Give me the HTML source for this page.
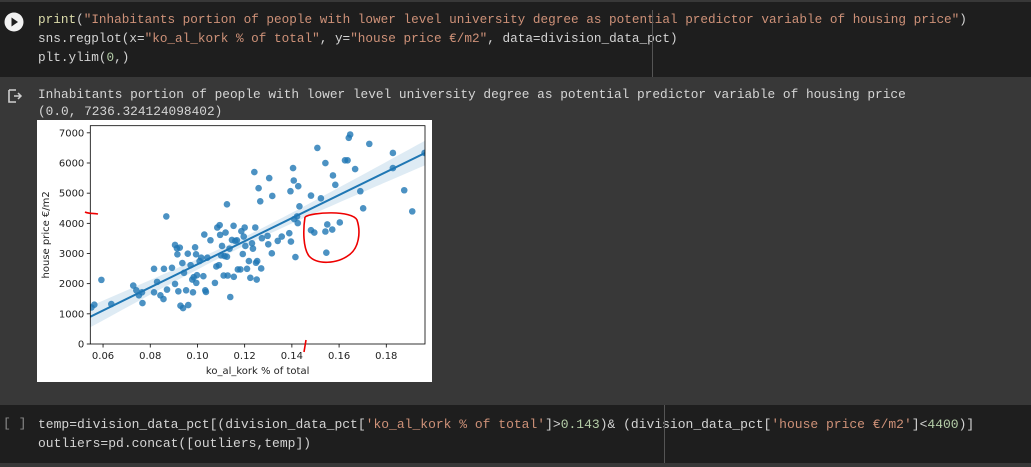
<!DOCTYPE html>
<html><head><meta charset="utf-8">
<style>
html,body{margin:0;padding:0;}
body{width:1031px;height:467px;background:#383838;position:relative;overflow:hidden;font-family:"Liberation Mono",monospace;}
.cell{position:absolute;left:0;width:1031px;background:#1e1e1e;}
.code{position:absolute;left:38px;font-size:12.7px;color:#d4d4d4;white-space:pre;line-height:19px;}
.s{color:#ce9178}.f{color:#dcdcaa}.n{color:#b5cea8}
.out{position:absolute;left:38px;top:86px;font-size:12.8px;color:#d5d5d5;white-space:pre;line-height:17px;}
</style></head><body>
<div class="cell" style="top:2px;height:75px;">
  <svg style="position:absolute;left:4px;top:10px" width="20" height="20"><circle cx="10" cy="10" r="9.5" fill="#f2f2f2"/><path d="M7.5 5.5 L14 10 L7.5 14.5Z" fill="#1e1e1e"/></svg>
  <div class="code" style="top:8px;"><span class="f">print</span>(<span class="s">"Inhabitants portion of people with lower level university degree as potential predictor variable of housing price"</span>)
sns.regplot(x=<span class="s">"ko_al_kork % of total"</span>, y=<span class="s">"house price €/m2"</span>, data=division_data_pct)
plt.ylim(<span class="n">0</span>,)</div>
  <div style="position:absolute;left:652px;top:8px;width:1px;height:67px;background:#555"></div>
</div>
<svg style="position:absolute;left:6px;top:88px" width="18" height="16"><path d="M3 2 H10 M3 2 V14 H10" stroke="#cfcfcf" stroke-width="1.6" fill="none"/><path d="M8 8 H15 M12 5 L15 8 L12 11" stroke="#cfcfcf" stroke-width="1.5" fill="none"/></svg>
<div class="out">Inhabitants portion of people with lower level university degree as potential predictor variable of housing price
(0.0, 7236.324124098402)</div>

<svg id="chart" style="position:absolute;left:37px;top:120px;background:#fff" width="395" height="262"></svg>

<div class="cell" style="top:405px;height:58px;">
  <div style="position:absolute;left:3px;top:11px;font-size:13px;color:#8a8a8a;font-family:'Liberation Mono',monospace">[ ]</div>
  <div class="code" style="top:10px;font-size:13px;">temp=division_data_pct[(division_data_pct[<span class="s">'ko_al_kork % of total'</span>]&gt;<span class="n">0.143</span>)&amp; (division_data_pct[<span class="s">'house price €/m2'</span>]&lt;<span class="n">4400</span>)]
outliers=pd.concat([outliers,temp])</div>
  <div style="position:absolute;left:664px;top:0;width:1px;height:58px;background:#555"></div>
</div>

<script>
const xs=[.0551,.0563,.0593,.0635,.0728,.0741,.0752,.0765,.0767,.0816,.0816,.0829,.0843,.0856,.0858,.0868,.0871,.0892,.0905,.0905,.0913,.0915,.0919,.0925,.0928,.0936,.0939,.0943,.0952,.0959,.0961,.0971,.0978,.0981,.0984,.0990,.0994,.0995,.0998,.1009,.1016,.1025,.1029,.1033,.1036,.1042,.1055,.1074,.1080,.1084,.1091,.1094,.1096,.1100,.1104,.1111,.1115,.1119,.1125,.1125,.1128,.1136,.1139,.1146,.1153,.1154,.1160,.1167,.1171,.1182,.1186,.1192,.1196,.1200,.1203,.1210,.1218,.1224,.1231,.1235,.1241,.1245,.1248,.1251,.1253,.1259,.1266,.1270,.1273,.1297,.1300,.1304,.1315,.1317,.1340,.1357,.1389,.1394,.1396,.1405,.1408,.1410,.1415,.1422,.1425,.1427,.1432,.1481,.1481,.1495,.1508,.1523,.1542,.1542,.1546,.1550,.1571,.1574,.1584,.1603,.1625,.1636,.1641,.1647,.1668,.1690,.1702,.1728,.1828,.1828,.1876,.1910,.1962];
const ys=[1213,1302,2126,1324,1937,1781,1614,1714,1358,2493,1714,2059,1614,1491,2493,4229,1803,2526,3283,1992,3172,2972,1748,3194,1269,2682,1191,2360,1781,2994,1291,2615,2137,1714,2215,3205,2972,2026,2282,2749,2860,2249,3628,1781,1725,2860,3439,2026,2571,3862,2615,3940,3617,2938,3250,2271,2916,3695,4630,2894,2271,3161,1558,3450,3918,2226,3417,3439,2471,2471,3740,2983,3561,3862,3250,2493,2749,2193,3339,3161,5699,3862,2693,2137,2749,5164,4730,2504,3506,3584,3306,5499,3005,4908,3417,3561,3673,5064,3395,5832,5420,4141,2883,4229,4007,5231,4563,4919,3773,3695,6500,4830,5999,3729,3027,3962,3795,5587,5276,4029,6088,6088,6834,6945,5799,5064,4497,6634,6333,5832,5097,4396,6333];
const xTicks=[0.06,0.08,0.10,0.12,0.14,0.16,0.18];
const xTickLabels=["0.06","0.08","0.10","0.12","0.14","0.16","0.18"];
const yTicks=[0,1000,2000,3000,4000,5000,6000,7000];
const xMin=0.0546,xMax=0.1964,yMin=0,yMax=7236.324;
const L=53.3,R=388,T=5.7,B=224;
const X=v=>L+(v-xMin)/(xMax-xMin)*(R-L);
const Y=v=>B-(v-yMin)/(yMax-yMin)*(B-T);
const NS="http://www.w3.org/2000/svg";
const svg=document.getElementById('chart');
function mk(t,a){const e=document.createElementNS(NS,t);for(const k in a)e.setAttribute(k,a[k]);svg.appendChild(e);return e;}
const defs=mk('defs',{});
const cp=document.createElementNS(NS,'clipPath');cp.setAttribute('id','pc');defs.appendChild(cp);
const cr=document.createElementNS(NS,'rect');cr.setAttribute('x',L);cr.setAttribute('y',T);cr.setAttribute('width',R-L);cr.setAttribute('height',B-T);cp.appendChild(cr);
const n=xs.length;const mx=xs.reduce((a,b)=>a+b)/n,my=ys.reduce((a,b)=>a+b)/n;
let sxx=0,sxy=0;for(let i=0;i<n;i++){sxx+=(xs[i]-mx)**2;sxy+=(xs[i]-mx)*(ys[i]-my);}
const b1=sxy/sxx,b0=my-b1*mx;
let sse=0;for(let i=0;i<n;i++)sse+=(ys[i]-b0-b1*xs[i])**2;
const se=Math.sqrt(sse/(n-2));
const g=mk('g',{'clip-path':'url(#pc)'});
const up=[],lo=[];
for(let k=0;k<=40;k++){const xv=xMin+(xMax-xMin)*k/40;const yh=b0+b1*xv;const h=1.98*se*Math.sqrt(1/n+(xv-mx)**2/sxx);
up.push(X(xv).toFixed(1)+','+Y(yh+h).toFixed(1));lo.unshift(X(xv).toFixed(1)+','+Y(yh-h).toFixed(1));}
const band=document.createElementNS(NS,'polygon');band.setAttribute('points',up.concat(lo).join(' '));band.setAttribute('fill','#1f77b4');band.setAttribute('fill-opacity','0.15');


g.appendChild(band);
for(let i=0;i<n;i++){const c=document.createElementNS(NS,'circle');c.setAttribute('cx',X(xs[i]));c.setAttribute('cy',Y(ys[i]));c.setAttribute('r',3.3);c.setAttribute('fill','#1f77b4');c.setAttribute('fill-opacity','0.8');


g.appendChild(c);}
const ln=document.createElementNS(NS,'line');ln.setAttribute('x1',X(xMin));ln.setAttribute('y1',Y(b0+b1*xMin));ln.setAttribute('x2',X(xMax));ln.setAttribute('y2',Y(b0+b1*xMax));ln.setAttribute('stroke','#1f77b4');ln.setAttribute('stroke-width','2');


g.appendChild(ln);
const fr=mk('rect',{x:L,y:T,width:R-L,height:B-T,fill:'none',stroke:'#000','stroke-width':0.8});


const tf='font-family:"DejaVu Sans","Liberation Sans",sans-serif;font-size:10px;fill:#222';
xTicks.forEach((v,i)=>{mk('line',{x1:X(v),x2:X(v),y1:B,y2:B+3.5,stroke:'#000','stroke-width':0.8});
const t=mk('text',{x:X(v),y:B+15,'text-anchor':'middle',style:tf});t.textContent=xTickLabels[i];

});
yTicks.forEach(v=>{mk('line',{x1:L-3.5,x2:L,y1:Y(v),y2:Y(v),stroke:'#000','stroke-width':0.8});
const t=mk('text',{x:L-6,y:Y(v)+3.5,'text-anchor':'end',style:tf});t.textContent=String(v);

});
const xl=mk('text',{x:(L+R)/2,y:254,'text-anchor':'middle',style:tf});xl.textContent='ko_al_kork % of total';


const yl=mk('text',{x:0,y:0,'text-anchor':'middle',style:tf,transform:'translate(12,'+((T+B)/2)+') rotate(-90)'});yl.textContent='house price €/m2';


const a1=mk('path',{d:'M268 97 C275 92 315 90 320 100 C324 112 322 128 312 135 C300 144 280 145 272 136 C266 128 266 110 268 97',fill:'none',stroke:'#e00','stroke-width':1.6});


const a2=mk('path',{d:'M48 92 C52 94 56 93 61 94',fill:'none',stroke:'#e00','stroke-width':1.6});


const a3=mk('path',{d:'M269 220 L267 232',fill:'none',stroke:'#e00','stroke-width':1.6});


</script>
</body></html>
